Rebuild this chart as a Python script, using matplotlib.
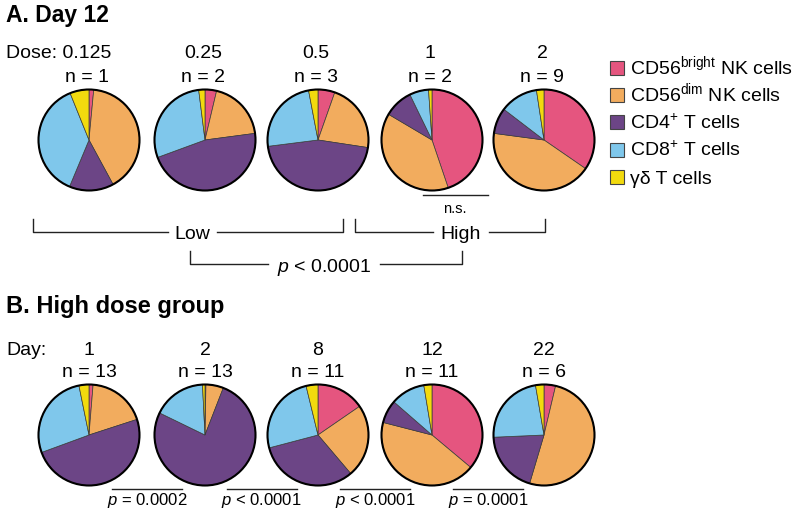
import matplotlib
matplotlib.use("Agg")
from matplotlib import pyplot as plt
from matplotlib.patches import Circle, Rectangle

plt.rcParams['font.family'] = ['Liberation Sans', 'DejaVu Sans']
plt.rcParams['mathtext.fontset'] = 'custom'
plt.rcParams['mathtext.rm'] = 'Liberation Sans'
plt.rcParams['mathtext.it'] = 'Liberation Sans:italic'

cell_types = ["CD56$^{\\mathrm{bright}}$ NK cells", "CD56$^{\\mathrm{dim}}$ NK cells",
              "CD4$^{+}$ T cells", "CD8$^{+}$ T cells", "\u03b3\u03b4 T cells"]
colors = ["#E5557F", "#F2AC5E", "#6C4586", "#7FC7EB", "#F2DA0E"]

# panel A: day 12, by dose (% of cells)
doses = ["0.125", "0.25", "0.5", "1", "2"]
dose_n = [1, 2, 3, 2, 9]
dose_fracs = [
    [1.5, 40.6, 14.2, 37.6, 6.1],
    [3.7, 19.2, 46.5, 28.6, 2.0],
    [5.4, 22.0, 45.6, 24.0, 3.0],
    [44.8, 38.7, 9.3, 6.1, 1.1],
    [34.6, 42.5, 8.3, 12.2, 2.4],
]

# panel B: high dose group, by day
days = ["1", "2", "8", "12", "22"]
day_n = [13, 13, 11, 11, 6]
day_fracs = [
    [1.3, 18.7, 49.4, 27.4, 3.2],
    [0.3, 5.6, 76.3, 17.0, 0.8],
    [15.4, 23.4, 32.1, 25.3, 3.8],
    [36.1, 42.9, 7.4, 11.0, 2.6],
    [3.7, 50.9, 19.7, 23.0, 2.7],
]
day_pvals = ["$p$ = 0.0002", "$p$ < 0.0001", "$p$ < 0.0001", "$p$ = 0.0001"]

W, H = 800, 514
fig = plt.figure(figsize=(8, 5.14), dpi=100)
ax = fig.add_axes([0, 0, 1, 1])

def Y(y):
    return H - y

xs = [89, 205, 318, 432, 544]
R = 50.5
rowA, rowB = 140, 435

def draw_pie(x, y, fr):
    ax.pie(fr, colors=colors, center=(x, Y(y)), radius=R, startangle=90,
           counterclock=False, wedgeprops=dict(edgecolor="#3a3a3a", linewidth=0.5))
    ax.add_patch(Circle((x, Y(y)), R, fill=False, edgecolor="black", linewidth=1.5, zorder=5))

for i in range(5):
    draw_pie(xs[i], rowA, dose_fracs[i])
    draw_pie(xs[i], rowB, day_fracs[i])

fs = 14
ax.text(6, Y(22), "A. Day 12", fontsize=16.5, fontweight="bold", va="baseline")
ax.text(6, Y(313), "B. High dose group", fontsize=17, fontweight="bold", va="baseline")

ax.text(6, Y(58), "Dose: " + doses[0], fontsize=fs, va="baseline")
for i in range(1, 5):
    ax.text(xs[i] - 2, Y(58), doses[i], fontsize=fs, va="baseline", ha="center")
for i in range(5):
    ax.text(xs[i] - 2, Y(82), "n = %d" % dose_n[i], fontsize=fs, va="baseline", ha="center")

ax.text(6, Y(355), "Day:", fontsize=fs, va="baseline")
for i in range(5):
    ax.text(xs[i], Y(355), days[i], fontsize=fs, va="baseline", ha="center")
    ax.text(xs[i], Y(377), "n = %d" % day_n[i], fontsize=fs, va="baseline", ha="center")

lk = dict(color="#222222", linewidth=1.0)

def bracket(x0, x1, y, ytop, label, gap0, gap1, ybase):
    ax.plot([x0, x0, gap0], [Y(ytop), Y(y), Y(y)], **lk)
    ax.plot([gap1, x1, x1], [Y(y), Y(y), Y(ytop)], **lk)
    ax.text((gap0 + gap1) / 2, Y(ybase), label, fontsize=fs, ha="center", va="baseline")

bracket(33, 343, 232, 219, "Low", 168, 217, 239)
bracket(355, 545, 232, 219, "High", 433, 489, 239)
bracket(190, 462, 264, 251, "$p$ < 0.0001", 268, 380, 272)

ax.plot([423, 488], [Y(195), Y(195)], **lk)
ax.text(455, Y(213), "n.s.", fontsize=10.5, ha="center", va="baseline")

for i in range(4):
    mid = (xs[i] + xs[i + 1]) / 2
    ax.plot([mid - 35, mid + 35], [Y(489), Y(489)], **lk)
    ax.text(mid, Y(505), day_pvals[i], fontsize=12, ha="center", va="baseline")

# legend, drawn by hand so the rows stay evenly spaced
for i, (c, lab) in enumerate(zip(colors, cell_types)):
    base = 74 + 27.4 * i
    ax.add_patch(Rectangle((610, Y(base + 0.5)), 14, 14, facecolor=c,
                           edgecolor="#444444", linewidth=0.8))
    ax.text(630, Y(base), lab, fontsize=fs, va="baseline")

ax.set_xlim(0, W)
ax.set_ylim(0, H)
ax.set_aspect("auto")
ax.axis("off")

fig.savefig("out.png", dpi=100)
